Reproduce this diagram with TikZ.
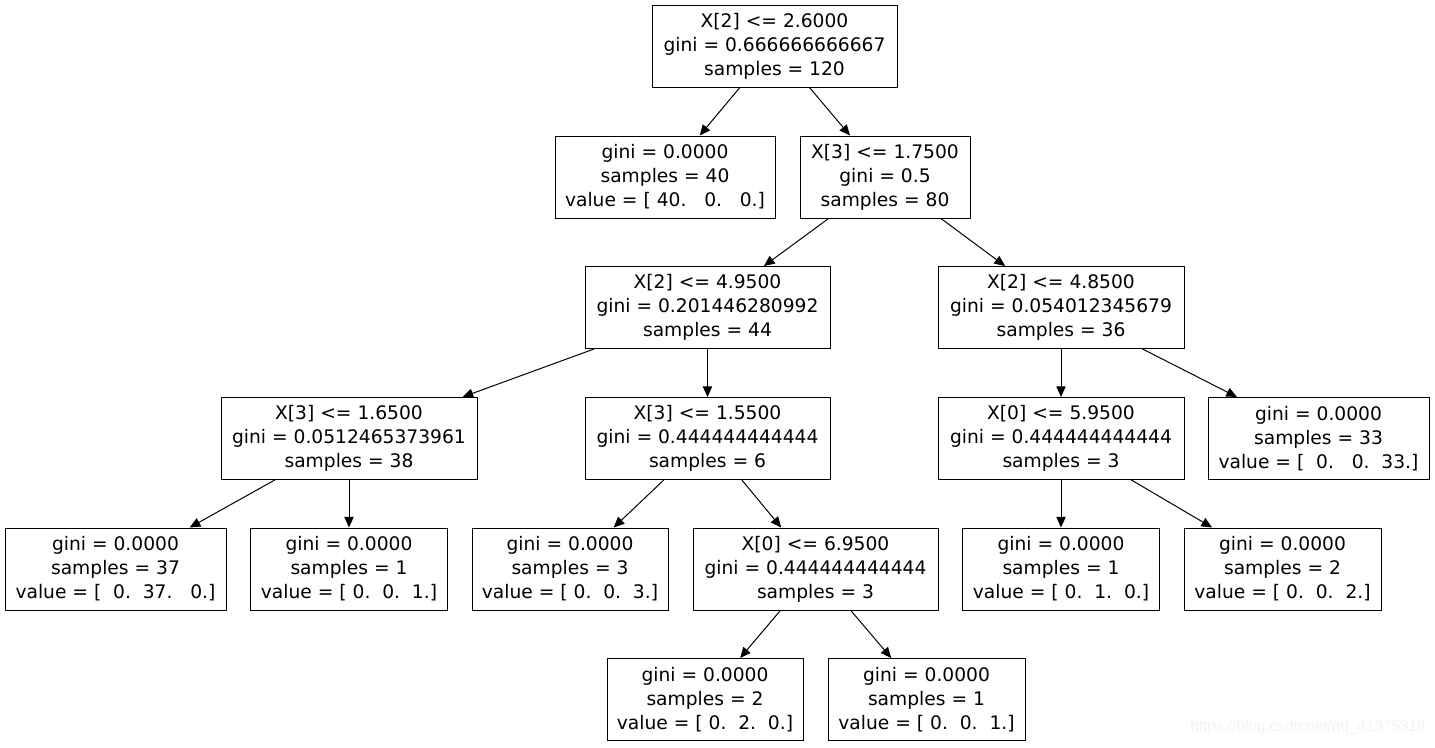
\documentclass[tikz,border=0pt]{standalone}
\usepackage{fontspec}
\setmainfont{DejaVu Sans}
\newfontfamily\wmfont{Liberation Sans}
\usetikzlibrary{arrows.meta}
\tikzset{
  tn/.style={draw, line width=0.75pt, minimum height=61.5pt, inner sep=0pt,
    align=center, font=\fontsize{14}{18}\selectfont},
  bw/.style={minimum width={#1*0.75pt}},
  edge/.style={line width=0.75pt, -{Triangle[length=8pt,width=7pt]}}
}
\begin{document}
\begin{tikzpicture}[x=0.75pt,y=-0.75pt]
\useasboundingbox (0,0) rectangle (1435,747);
\node[tn,bw=245] (n0) at (774.5,46) {X[2] <= 2.6000\\gini = 0.666666666667\\samples = 120};
\node[tn,bw=220] (n1) at (665,177) {gini = 0.0000\\samples = 40\\value = [~40.~~~0.~~~0.]};
\node[tn,bw=170] (n2) at (885,177) {X[3] <= 1.7500\\gini = 0.5\\samples = 80};
\node[tn,bw=245] (n3) at (707.5,307.5) {X[2] <= 4.9500\\gini = 0.201446280992\\samples = 44};
\node[tn,bw=246] (n4) at (1061,307.5) {X[2] <= 4.8500\\gini = 0.054012345679\\samples = 36};
\node[tn,bw=256] (n5) at (349,438.5) {X[3] <= 1.6500\\gini = 0.0512465373961\\samples = 38};
\node[tn,bw=245] (n6) at (707.5,438.5) {X[3] <= 1.5500\\gini = 0.444444444444\\samples = 6};
\node[tn,bw=246] (n7) at (1061,438.5) {X[0] <= 5.9500\\gini = 0.444444444444\\samples = 3};
\node[tn,bw=221] (n8) at (1318.5,438.5) {gini = 0.0000\\samples = 33\\value = [~~0.~~~0.~~33.]};
\node[tn,bw=221] (n9) at (115.5,569) {gini = 0.0000\\samples = 37\\value = [~~0.~~37.~~~0.]};
\node[tn,bw=197] (n10) at (349,569) {gini = 0.0000\\samples = 1\\value = [~0.~~0.~~1.]};
\node[tn,bw=196] (n11) at (570,569) {gini = 0.0000\\samples = 3\\value = [~0.~~0.~~3.]};
\node[tn,bw=245] (n12) at (815.5,569) {X[0] <= 6.9500\\gini = 0.444444444444\\samples = 3};
\node[tn,bw=197] (n13) at (1061,569) {gini = 0.0000\\samples = 1\\value = [~0.~~1.~~0.]};
\node[tn,bw=197] (n14) at (1282.5,569) {gini = 0.0000\\samples = 2\\value = [~0.~~0.~~2.]};
\node[tn,bw=196] (n15) at (705,699.5) {gini = 0.0000\\samples = 2\\value = [~0.~~2.~~0.]};
\node[tn,bw=197] (n16) at (926.5,699.5) {gini = 0.0000\\samples = 1\\value = [~0.~~0.~~1.]};
\draw[edge] (n0) -- (n1);
\draw[edge] (n0) -- (n2);
\draw[edge] (n2) -- (n3);
\draw[edge] (n2) -- (n4);
\draw[edge] (n3) -- (n5);
\draw[edge] (n3) -- (n6);
\draw[edge] (n4) -- (n7);
\draw[edge] (n4) -- (n8);
\draw[edge] (n5) -- (n9);
\draw[edge] (n5) -- (n10);
\draw[edge] (n6) -- (n11);
\draw[edge] (n6) -- (n12);
\draw[edge] (n7) -- (n13);
\draw[edge] (n7) -- (n14);
\draw[edge] (n12) -- (n15);
\draw[edge] (n12) -- (n16);
\node[anchor=east, text=black!5, font=\wmfont\fontsize{11.5}{12}\selectfont, inner sep=0pt] (wm) at (1426,728) {https://blog.csdn.net/qq\_41375318};
\end{tikzpicture}
\end{document}
